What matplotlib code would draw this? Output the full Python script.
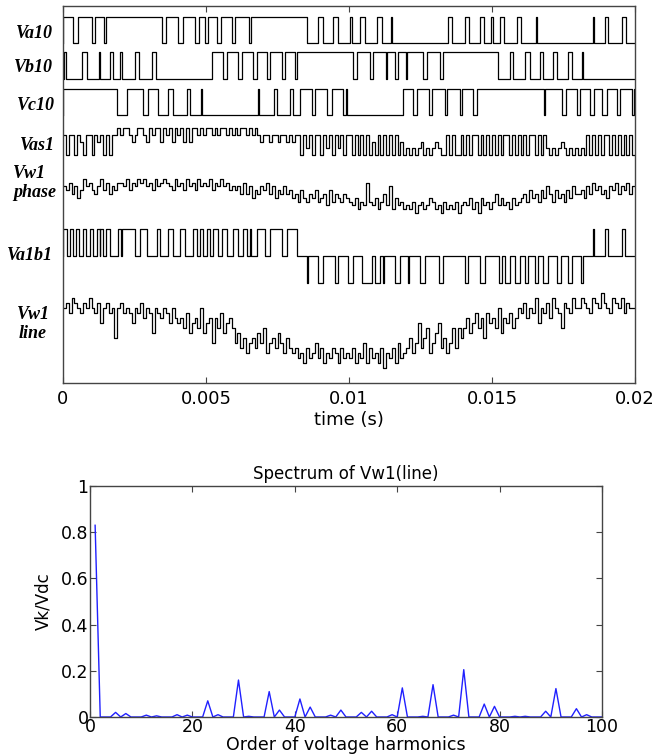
import matplotlib
matplotlib.use("Agg")
import matplotlib.pyplot as plt
import numpy as np

plt.rcParams['font.family'] = 'DejaVu Sans'

# ---- top panel data (times in ms) ----
va10_high = [[0.0, 0.36], [0.54, 1.00], [1.12, 1.45], [1.49, 3.45], [3.60, 4.03], [4.18, 4.62],
             [4.77, 4.97], [5.06, 5.37], [5.51, 5.90], [6.01, 6.52], [6.56, 8.52], [8.93, 9.10],
             [9.45, 9.63], [10.03, 10.09], [10.38, 10.56], [10.97, 11.14], [11.47, 11.51],
             [13.47, 13.59], [14.06, 14.21], [14.58, 14.72], [14.98, 15.02], [15.28, 15.42],
             [15.86, 16.00], [16.54, 16.58], [18.52, 18.56], [18.95, 19.07], [19.53, 19.69]]
vb10_high = [[0.02, 0.12], [0.65, 0.83], [1.27, 1.31], [1.64, 1.76], [2.01, 2.05], [2.52, 2.66],
             [3.12, 3.24], [5.20, 5.61], [5.72, 6.13], [6.25, 6.66], [6.77, 7.12], [7.24, 7.65],
             [7.76, 8.11], [8.17, 10.15], [10.27, 10.73], [10.85, 11.30], [11.34, 11.61],
             [11.72, 11.98], [12.02, 12.60], [12.72, 13.18], [13.30, 15.22], [15.63, 15.75],
             [16.16, 16.33], [16.68, 16.79], [17.14, 17.26], [17.67, 17.79], [18.13, 18.19]]
vc10_high = [[0.0, 1.88], [2.23, 2.81], [2.98, 3.33], [3.68, 3.86], [4.32, 4.44], [4.83, 4.87],
             [6.81, 6.85], [7.38, 7.48], [7.92, 8.04], [8.30, 8.70], [8.81, 9.22], [9.40, 9.80],
             [9.88, 9.92], [11.90, 12.25], [12.37, 12.78], [12.90, 13.36], [13.44, 13.88],
             [13.94, 14.35], [14.47, 16.83], [16.87, 17.44], [17.60, 17.96], [18.08, 18.43],
             [18.55, 18.85], [19.02, 19.37], [19.49, 19.90], [19.96, 20.0]]
va1b1_pos = [[0.0, 0.13], [0.24, 0.34], [0.45, 0.57], [0.71, 0.80], [0.94, 1.06], [1.18, 1.29],
             [1.31, 1.41], [1.50, 1.64], [1.93, 2.03], [2.07, 2.52], [2.69, 2.93], [3.28, 3.39],
             [3.68, 3.86], [4.09, 4.27], [4.56, 4.67], [4.79, 4.91], [5.02, 5.14], [5.26, 5.43],
             [5.55, 5.72], [5.96, 6.13], [6.31, 6.42], [6.53, 6.56], [6.77, 7.06], [7.24, 7.65],
             [7.82, 8.17], [18.54, 18.58], [18.95, 19.07], [19.53, 19.65]]
va1b1_neg = [[8.52, 8.56], [8.93, 9.10], [9.51, 9.63], [9.98, 10.15], [10.45, 10.80],
             [10.92, 11.10], [11.18, 11.22], [11.61, 11.78], [12.05, 12.09], [12.48, 12.66],
             [13.13, 13.30], [14.06, 14.17], [14.58, 14.76], [15.23, 15.34], [15.45, 15.63],
             [15.81, 15.98], [16.15, 16.27], [16.50, 16.60], [16.80, 16.95], [17.26, 17.40],
             [17.67, 17.80], [18.10, 18.19]]
# multilevel waveforms, one character per 0.1 ms
slot_ms = 0.1
vas1_levels = ("3033032033032303033" "434432344324344243424342424" "4343443434434343443434"
               "32332332332323" "3031303303130313033" "0303030203030303020" "1010120101210"
               "0303003030330303" "03030330303030330303" "1010121010101" "030303033030303030")
vw1_phase_levels = ("76857469786579685768" "87968798978697898769" "78697869787968797867"
                    "67585746576857465756" "45364354634526354354" "32413283241352714231"
                    "21302312431203121302" "32413042313524231423" "45364536475364536475"
                    "56475867564768576857")
vw1_line_levels = ("cdbedcbdcecbd9cdbc6c" "dbcb9cbdacb7cbacb9ca" "9a8b79a8c79a5a8b79a8"
                   "57463564758356475364" "34231423524132431423" "24132514231403241523"
                   "46359468357946358486" "8a79b8a6b9a8c7a9b8ac" "bdacbe9cbdaecb8dcbec"
                   "cedcbedcfdcbedcebdcc")
row_labels = ["Va10", "Vb10", "Vc10", "Vas1", "Vw1\nphase", "Va1b1", "Vw1\nline"]
time_ticks = [0, 0.005, 0.01, 0.015, 0.02]
time_ticklabels = ["0", "0.005", "0.01", "0.015", "0.02"]

# ---- spectrum data ----
odd_orders = np.arange(1, 101, 2)
odd_mag = [0.83, 0, 0.02, 0.015, 0, 0.008, 0.005, 0, 0.01, 0.008, 0, 0.07, 0.01, 0, 0.16,
           0.003, 0, 0.11, 0.03, 0, 0.078, 0.043, 0, 0.008, 0.03, 0, 0.02, 0.025, 0, 0.01,
           0.126, 0, 0.003, 0.14, 0, 0.008, 0.205, 0, 0.056, 0.046, 0, 0.003, 0.003, 0,
           0.025, 0.123, 0, 0.036, 0.01, 0]
orders = np.arange(1, 101)
mag = np.zeros(len(orders))
mag[odd_orders - 1] = odd_mag


def pulse_steps(intervals, lo, hi):
    t = [0.0]
    y = [lo]
    for s, e in intervals:
        t += [s, e]
        y += [hi, lo]
    t.append(20.0)
    y.append(y[-1])
    return np.array(t) * 1e-3, np.array(y)


def signed_steps(pos, neg, zero, step):
    iv = sorted([(s, e, 1) for s, e in pos] + [(s, e, -1) for s, e in neg])
    t = [0.0]
    y = [zero]
    for s, e, sg in iv:
        t += [s, e]
        y += [zero + sg * step, zero]
    t.append(20.0)
    y.append(y[-1])
    return np.array(t) * 1e-3, np.array(y)


def level_steps(levels, base, step):
    vals = np.array([int(c, 16) for c in levels], dtype=float)
    vals = np.append(vals, vals[-1])
    t = np.arange(len(vals)) * slot_ms * 1e-3
    return t, base + step * vals


W, H = 661, 756
fig = plt.figure(figsize=(W / 100, H / 100), dpi=100)
frame = '#444444'
lw = 0.9

# top panel, y in "pixels from axes bottom"
ax = fig.add_axes([63 / W, 1 - 383 / H, 572 / W, 377 / H])
traces = [pulse_steps(va10_high, 340, 366),
          pulse_steps(vb10_high, 304, 331),
          pulse_steps(vc10_high, 268, 294),
          level_steps(vas1_levels, 228, 6.75),
          level_steps(vw1_phase_levels, 170, 3.8),
          signed_steps(va1b1_pos, va1b1_neg, 127, 27),
          level_steps(vw1_line_levels, 15, 5)]
for t, y in traces:
    ax.step(t, y, where='post', color='black', lw=lw)
ax.set_xlim(0, 0.02)
ax.set_ylim(0, 377)
ax.set_yticks([])
ax.set_xticks(time_ticks)
ax.set_xticklabels(time_ticklabels, fontsize=13)
ax.tick_params(axis='x', direction='in', top=True, length=4, pad=5, color=frame)
ax.set_xlabel('time (s)', fontsize=13, labelpad=2)
for s in ax.spines.values():
    s.set_color(frame)
    s.set_linewidth(1.0)

# row labels (pixel positions)
label_pos = [(53, 33, 'right'), (53, 67, 'right'), (55, 105, 'right'), (55, 145, 'right'),
             (13, 183, 'left'), (53, 255, 'right'), (33, 324, 'center')]
for (x, y, ha), txt in zip(label_pos, row_labels):
    fig.text(x / W, 1 - y / H, txt, ha=ha, va='center', fontsize=13,
             family='Liberation Serif', weight='bold', style='italic', linespacing=1.1)

# spectrum panel
ax2 = fig.add_axes([90 / W, 1 - 717 / H, 512 / W, 231 / H])
ax2.plot(orders, mag, color='#2020ff', lw=1.0)
ax2.set_xlim(0, 100)
ax2.set_ylim(0, 1)
ax2.set_xticks([0, 20, 40, 60, 80, 100])
ax2.set_yticks([0, 0.2, 0.4, 0.6, 0.8, 1])
ax2.set_yticklabels(["0", "0.2", "0.4", "0.6", "0.8", "1"])
ax2.tick_params(direction='in', top=True, right=True, length=4, labelsize=12.5, pad=1,
                color=frame)
ax2.set_title('Spectrum of Vw1(line)', fontsize=12, pad=5)
ax2.set_xlabel('Order of voltage harmonics', fontsize=12.5, labelpad=0)
ax2.set_ylabel('Vk/Vdc', fontsize=12, labelpad=6)
for s in ax2.spines.values():
    s.set_color(frame)
    s.set_linewidth(1.0)

fig.savefig('out.png', dpi=100)
